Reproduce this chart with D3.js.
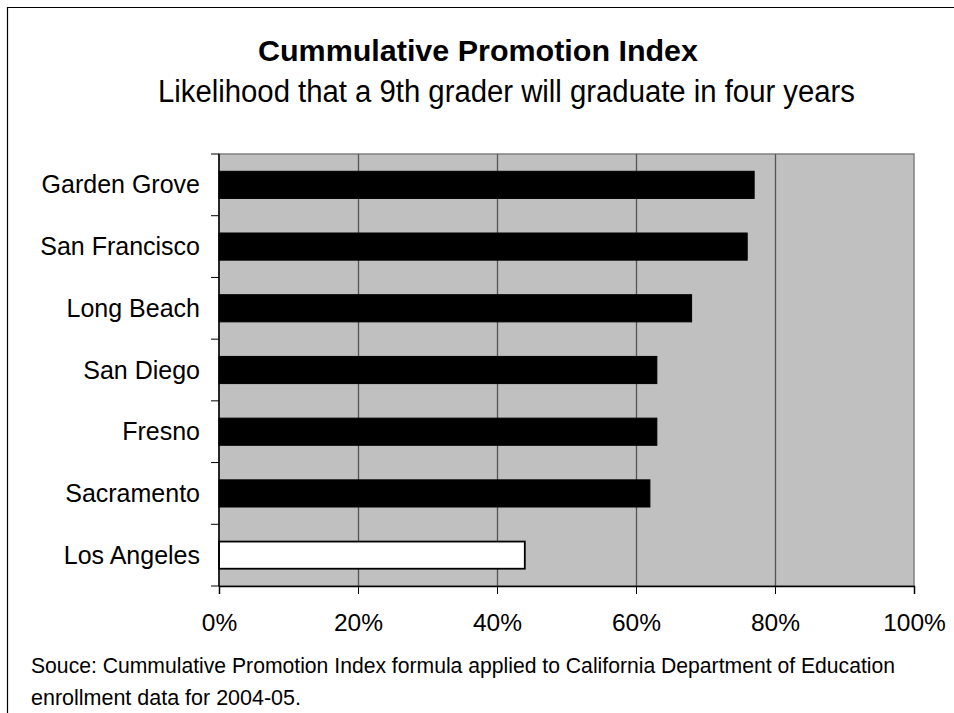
<!DOCTYPE html>
<html>
<head>
<meta charset="utf-8">
<script src="https://cdn.jsdelivr.net/npm/d3@7"></script>
<style>
  html, body { margin: 0; padding: 0; background: #fff; }
  svg { display: block; }
  text { font-family: "Liberation Sans", Arial, sans-serif; fill: #000; }
</style>
</head>
<body>
<svg id="chart" width="954" height="713"></svg>
<script>
// Districts, top to bottom
const districts = ["Garden Grove", "San Francisco", "Long Beach", "San Diego", "Fresno", "Sacramento", "Los Angeles"];
// Cumulative promotion index (share of 9th graders graduating in four years)
const cpi = [0.77, 0.76, 0.68, 0.63, 0.63, 0.62, 0.44];
// District drawn as an open bar
const openBar = ["Los Angeles"];
// Horizontal axis ticks
const xTicks = [0, 0.2, 0.4, 0.6, 0.8, 1.0];

const titleText = "Cummulative Promotion Index";
const subtitleText = "Likelihood that a 9th grader will graduate in four years";
const sourceLines = [
  "Souce: Cummulative Promotion Index formula applied to California Department of Education",
  "enrollment data for 2004-05."
];

const svg = d3.select("#chart");
const W = 954, H = 713;

// chart frame (runs off the right and bottom edges)
svg.append("path")
  .attr("d", `M7.5,${H + 2}V7.5H${W + 2}`)
  .attr("fill", "none")
  .attr("stroke", "#000")
  .attr("stroke-width", 1.2);

const plot = { left: 219, right: 914, top: 154, bottom: 586 };

const x = d3.scaleLinear().domain([0, 1]).range([plot.left, plot.right]);
const y = d3.scaleBand().domain(districts).range([plot.top, plot.bottom]).paddingInner(0.56).paddingOuter(0.28);

// plot background
svg.append("rect")
  .attr("x", plot.left).attr("y", plot.top)
  .attr("width", plot.right - plot.left).attr("height", plot.bottom - plot.top)
  .attr("fill", "#c0c0c0")
  .attr("stroke", "#808080")
  .attr("stroke-width", 1.5);

// vertical gridlines
svg.append("g")
  .selectAll("line")
  .data(xTicks.filter(t => t > 0 && t < 1))
  .join("line")
  .attr("x1", d => Math.round(x(d)) + 0.5).attr("x2", d => Math.round(x(d)) + 0.5)
  .attr("y1", plot.top).attr("y2", plot.bottom)
  .attr("stroke", "#555")
  .attr("stroke-width", 1.3);

// bars
svg.append("g")
  .selectAll("rect")
  .data(districts.map((d, i) => ({ name: d, value: cpi[i] })))
  .join("rect")
  .attr("x", x(0))
  .attr("y", d => y(d.name))
  .attr("width", d => x(d.value) - x(0))
  .attr("height", y.bandwidth())
  .attr("fill", d => openBar.includes(d.name) ? "#fff" : "#000")
  .attr("stroke", "#000")
  .attr("stroke-width", d => openBar.includes(d.name) ? 1.8 : 1);

// x axis
const xAxis = svg.append("g")
  .attr("transform", `translate(0,${plot.bottom})`)
  .call(d3.axisBottom(x).tickValues(xTicks).tickFormat(d3.format(".0%")).tickSize(8).tickPadding(20));
xAxis.select(".domain").attr("stroke", "#000").attr("stroke-width", 1.5);
xAxis.selectAll(".tick line").attr("stroke", "#000");
xAxis.selectAll(".tick text").attr("font-size", 24.5).attr("fill", "#000").attr("font-family", null);

// y axis: ticks fall between categories
const yAxis = svg.append("g").attr("transform", `translate(${plot.left},0)`);
yAxis.append("line")
  .attr("x1", 0).attr("x2", 0)
  .attr("y1", plot.top).attr("y2", plot.bottom)
  .attr("stroke", "#000").attr("stroke-width", 1.5);
yAxis.selectAll("line.tk")
  .data(d3.range(districts.length + 1))
  .join("line")
  .attr("class", "tk")
  .attr("x1", -8).attr("x2", 0)
  .attr("y1", i => plot.top + i * (plot.bottom - plot.top) / districts.length)
  .attr("y2", i => plot.top + i * (plot.bottom - plot.top) / districts.length)
  .attr("stroke", "#000");
yAxis.selectAll("text")
  .data(districts)
  .join("text")
  .attr("x", -19)
  .attr("y", d => y(d) + y.bandwidth() / 2 + 8.5)
  .attr("text-anchor", "end")
  .attr("font-size", 25)
  .text(d => d);

// titles
svg.append("text")
  .attr("x", 258).attr("y", 61)
  .attr("font-size", 30)
  .attr("font-weight", "bold")
  .attr("textLength", 440)
  .attr("lengthAdjust", "spacingAndGlyphs")
  .text(titleText);
svg.append("text")
  .attr("x", 158).attr("y", 102)
  .attr("font-size", 31)
  .attr("textLength", 697)
  .attr("lengthAdjust", "spacingAndGlyphs")
  .text(subtitleText);

// source note
const noteWidths = [864, 270];
svg.append("g")
  .selectAll("text")
  .data(sourceLines)
  .join("text")
  .attr("x", 31)
  .attr("y", (d, i) => 673 + i * 32)
  .attr("font-size", 21.5)
  .attr("textLength", (d, i) => noteWidths[i])
  .attr("lengthAdjust", "spacingAndGlyphs")
  .text(d => d);
</script>
</body>
</html>
